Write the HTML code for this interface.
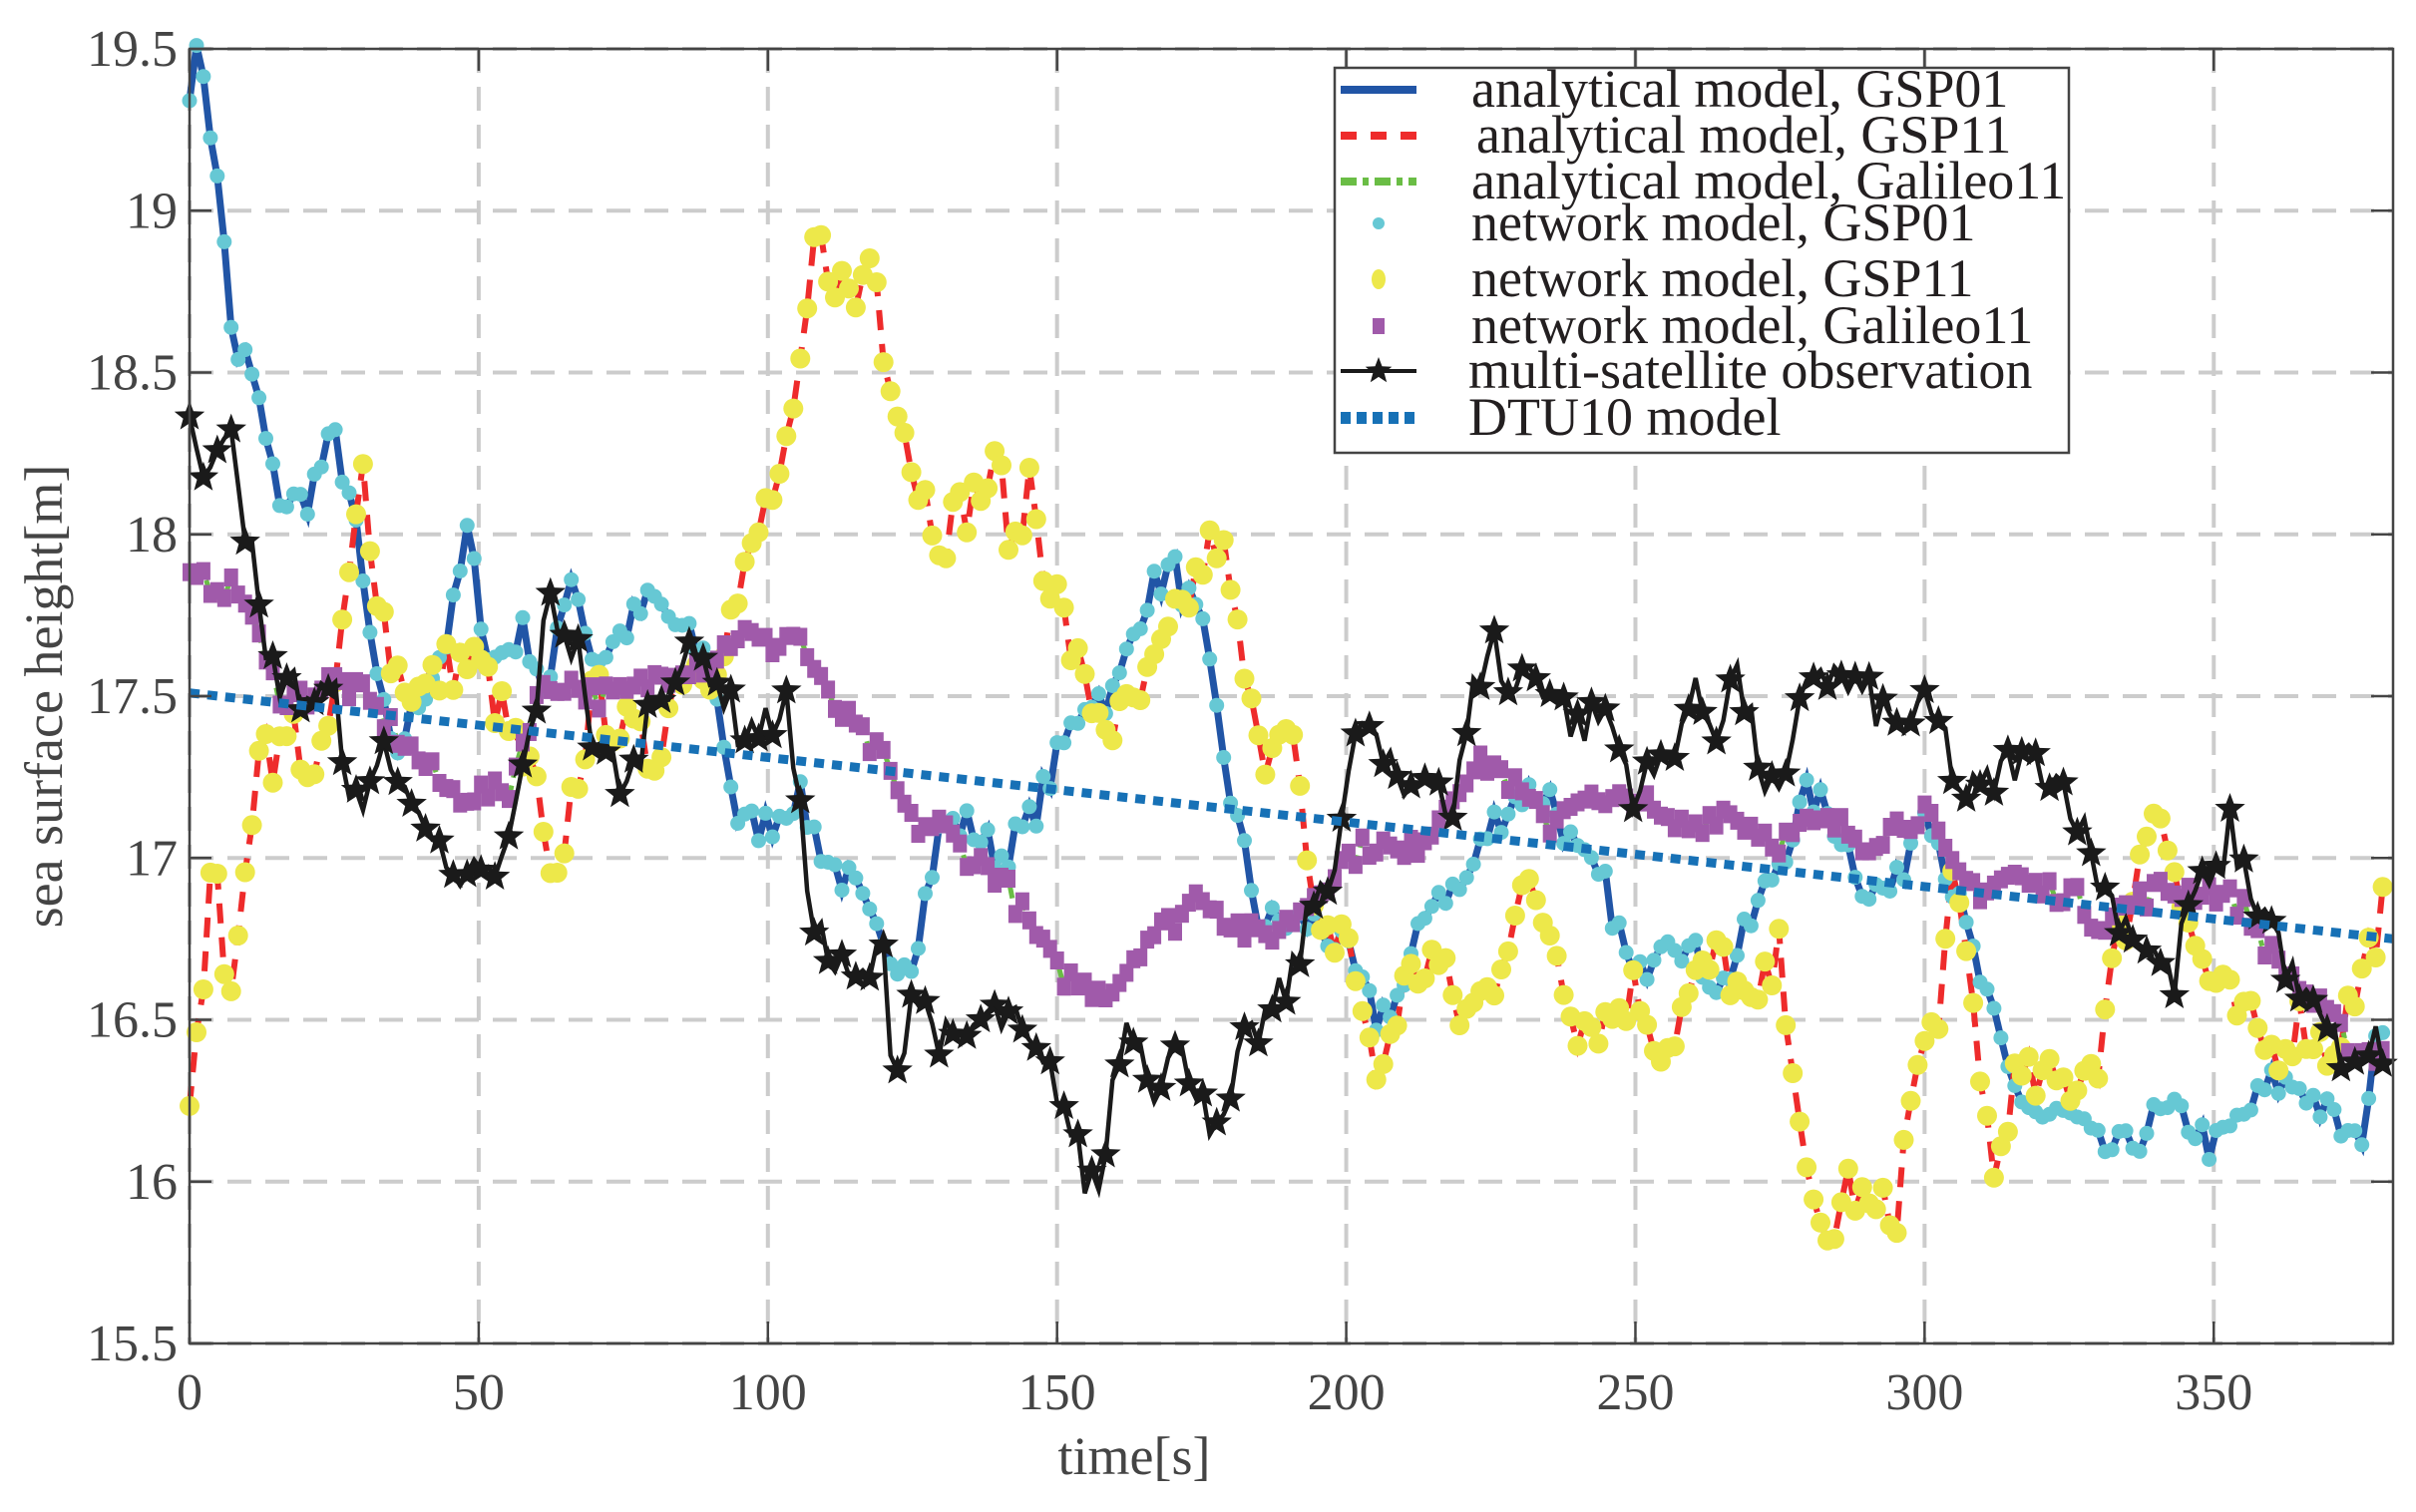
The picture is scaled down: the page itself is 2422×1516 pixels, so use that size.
<!DOCTYPE html>
<html><head><meta charset="utf-8"><style>
html,body{margin:0;padding:0;background:#fff;}
svg{display:block;}
text{font-family:"Liberation Serif",serif;fill:#444;}
</style></head><body>
<svg id="s" width="2422" height="1516" viewBox="0 0 2422 1516" xmlns="http://www.w3.org/2000/svg"></svg>
<script>
const L=190,R=2399,T=49,B=1347,XM=381,Y0=15.5,Y1=19.5;
const X=t=>L+(R-L)*t/XM, Y=v=>B-(B-T)*(v-Y0)/(Y1-Y0);
let h='';
for(let t=0;t<=350;t+=50){h+=`<line x1="${X(t)}" y1="${T}" x2="${X(t)}" y2="${B}" stroke="#cccccc" stroke-width="4" stroke-dasharray="24,14"/>`;}
for(let v=15.5;v<=19.5;v+=0.5){h+=`<line x1="${L}" y1="${Y(v)}" x2="${R}" y2="${Y(v)}" stroke="#cccccc" stroke-width="4" stroke-dasharray="24,14"/>`;}
let seed=7;function rnd(){seed=(seed*16807)%2147483647;return seed/2147483647;}
function parse(s){return s.split(',').map(p=>p.split(':').map(Number));}
function interp(k,t){for(let i=0;i<k.length-1;i++){if(t<=k[i+1][0]){const a=k[i],b=k[i+1];return a[1]+(b[1]-a[1])*(t-a[0])/(b[0]-a[0]);}}return k[k.length-1][1];}
function series(s,amp){const k=parse(s);const out=[];for(let t=0;t<=380;t+=1.2){out.push([t,interp(k,t)+(rnd()-0.5)*2*amp]);}return out;}
const g1=series("0:19.4,2:19.5,4:19.2,6:18.9,8:18.5,10:18.55,12:18.4,14:18.2,16:18.1,20:18.1,25:18.3,28:18.1,31:17.7,35:17.3,40:17.5,45:17.7,48:18.0,52:17.6,58:17.7,62:17.5,66:17.9,70:17.6,75:17.7,80:17.8,85:17.7,90:17.6,95:17.1,100:17.1,105:17.2,110:17.0,115:16.9,120:16.7,125:16.7,130:17.1,135:17.1,140:17.0,145:17.1,150:17.3,155:17.5,160:17.5,165:17.8,170:17.9,175:17.7,180:17.2,185:16.8,190:16.8,195:16.8,200:16.7,205:16.5,210:16.6,215:16.9,220:16.9,225:17.1,230:17.2,235:17.2,240:17.0,245:16.9,250:16.6,255:16.8,260:16.7,265:16.6,270:16.8,275:17.0,280:17.2,285:17.1,290:16.9,295:16.9,300:17.2,305:16.9,310:16.6,315:16.3,320:16.2,325:16.2,330:16.1,335:16.1,340:16.2,345:16.2,350:16.1,355:16.2,360:16.3,365:16.3,370:16.2,375:16.1,380:16.6",0.06);
const g2=series("0:16.3,2:16.6,4:17.0,6:16.7,8:16.6,10:17.0,12:17.4,15:17.3,18:17.4,22:17.2,25:17.5,28:17.9,30:18.2,32:17.9,35:17.6,40:17.5,45:17.6,50:17.6,55:17.4,60:17.2,63:16.8,65:17.1,70:17.5,75:17.4,80:17.3,85:17.6,90:17.6,95:17.8,100:18.1,103:18.2,106:18.5,108:18.9,112:18.8,115:18.7,118:18.9,120:18.6,123:18.4,125:18.2,130:18.0,135:18.1,140:18.2,143:17.9,145:18.2,148:17.9,150:17.8,155:17.5,160:17.4,165:17.5,170:17.7,175:17.9,178:18.0,182:17.6,185:17.3,190:17.5,193:17.0,195:16.7,200:16.8,205:16.3,210:16.6,215:16.7,220:16.5,225:16.6,230:16.9,235:16.8,240:16.5,245:16.5,250:16.6,255:16.4,260:16.6,265:16.7,270:16.5,275:16.7,278:16.3,280:15.9,283:15.8,287:16.0,290:15.9,295:15.9,298:16.3,302:16.5,305:16.9,308:16.6,310:16.3,312:16.0,315:16.3,320:16.3,325:16.3,330:16.4,333:16.7,336:16.9,340:17.2,342:17.1,345:16.8,350:16.6,355:16.5,360:16.4,365:16.5,370:16.4,375:16.6,380:16.9",0.09);
const g3=series("0:17.85,5:17.85,10:17.8,13:17.6,16:17.5,20:17.5,25:17.55,30:17.5,35:17.4,40:17.3,45:17.2,50:17.2,55:17.2,60:17.5,65:17.55,70:17.5,75:17.5,80:17.55,85:17.6,90:17.6,95:17.7,100:17.65,105:17.7,110:17.5,115:17.4,120:17.3,125:17.1,130:17.1,135:17.0,140:16.95,145:16.8,150:16.65,155:16.6,160:16.6,165:16.75,170:16.8,175:16.9,180:16.8,185:16.75,190:16.8,195:16.9,200:17.0,205:17.05,210:17.0,215:17.1,220:17.25,225:17.3,230:17.2,235:17.1,240:17.2,245:17.15,250:17.2,255:17.1,260:17.1,265:17.15,270:17.1,275:17.05,280:17.1,285:17.1,290:17.05,295:17.1,300:17.15,305:16.95,310:16.9,315:16.95,320:16.9,325:16.9,330:16.8,335:16.85,340:16.9,345:16.9,350:16.9,355:16.85,360:16.7,365:16.6,370:16.5,375:16.4,380:16.4",0.04);
const g4=series("0:18.4,3:18.1,5:18.3,7:18.4,9:18.1,11:17.9,13:17.6,16:17.55,20:17.5,25:17.5,28:17.2,30:17.1,33:17.4,36:17.2,40:17.2,43:17.0,47:16.85,50:17.0,53:16.9,57:17.2,60:17.5,62:17.8,65:17.7,68:17.6,70:17.3,73:17.3,76:17.2,80:17.5,85:17.6,90:17.6,95:17.4,100:17.4,103:17.5,107:16.9,110:16.7,115:16.6,120:16.7,122:16.3,125:16.6,128:16.5,132:16.4,137:16.5,142:16.5,147:16.35,150:16.3,155:16.0,158:16.0,160:16.4,163:16.5,167:16.3,170:16.4,175:16.3,178:16.1,182:16.4,186:16.5,190:16.6,195:16.9,198:17.0,200:17.2,203:17.45,206:17.3,210:17.2,215:17.3,218:17.1,222:17.5,225:17.7,228:17.5,232:17.6,236:17.5,240:17.4,245:17.45,250:17.2,255:17.3,260:17.5,264:17.4,267:17.6,270:17.4,273:17.2,276:17.2,280:17.6,285:17.55,290:17.5,295:17.4,300:17.45,303:17.4,306:17.2,310:17.2,315:17.3,320:17.3,325:17.2,328:17.05,331:16.9,335:16.8,340:16.7,343:16.6,346:16.9,350:16.9,353:17.1,356:16.9,360:16.8,364:16.6,368:16.5,372:16.4,375:16.3,378:16.5,380:16.2",0.07);
const pts=d=>d.map(p=>X(p[0]).toFixed(1)+','+Y(p[1]).toFixed(1)).join(' ');
h+=`<polyline points="${pts(g1)}" fill="none" stroke="#2155a6" stroke-width="7"/>`;
h+=`<polyline points="${pts(g2)}" fill="none" stroke="#ee2b2b" stroke-width="6" stroke-dasharray="20,14"/>`;
h+=`<polyline points="${pts(g3)}" fill="none" stroke="#6abd45" stroke-width="5" stroke-dasharray="18,8,6,8"/>`;
g1.forEach(p=>h+=`<circle cx="${X(p[0]).toFixed(1)}" cy="${Y(p[1]).toFixed(1)}" r="7.5" fill="#66c8d4"/>`);
g2.forEach(p=>h+=`<circle cx="${X(p[0]).toFixed(1)}" cy="${Y(p[1]).toFixed(1)}" r="10" fill="#ede84a"/>`);
g3.forEach(p=>h+=`<rect x="${(X(p[0])-7).toFixed(1)}" y="${(Y(p[1])-9).toFixed(1)}" width="14" height="18" fill="#a05aaa"/>`);
h+=`<polyline points="${pts(g4)}" fill="none" stroke="#1a1a1a" stroke-width="4.5"/>`;
function star(cx,cy,r){let s='';for(let i=0;i<10;i++){const a=-Math.PI/2+i*Math.PI/5,rr=i%2?r*0.42:r;s+=(cx+rr*Math.cos(a)).toFixed(1)+','+(cy+rr*Math.sin(a)).toFixed(1)+' ';}return `<polygon points="${s}" fill="#1a1a1a"/>`;}
g4.forEach((p,i)=>{if(i%2==0)h+=star(X(p[0]),Y(p[1]),16);});
h+=`<line x1="${X(0)}" y1="${Y(17.51)}" x2="${X(381)}" y2="${Y(16.75)}" stroke="#1771b6" stroke-width="9" stroke-dasharray="10,8"/>`;
h+=`<rect x="${L}" y="${T}" width="${R-L}" height="${B-T}" fill="none" stroke="#444" stroke-width="2.5"/>`;
for(let t=0;t<=350;t+=50){const x=X(t);h+=`<line x1="${x}" y1="${B}" x2="${x}" y2="${B-22}" stroke="#444" stroke-width="2.5"/><line x1="${x}" y1="${T}" x2="${x}" y2="${T+22}" stroke="#444" stroke-width="2.5"/><text x="${x}" y="${B+66}" font-size="52" text-anchor="middle">${t}</text>`;}
for(let v=15.5;v<=19.51;v+=0.5){const y=Y(v);h+=`<line x1="${L}" y1="${y}" x2="${L+22}" y2="${y}" stroke="#444" stroke-width="2.5"/><line x1="${R}" y1="${y}" x2="${R-22}" y2="${y}" stroke="#444" stroke-width="2.5"/><text x="${L-12}" y="${y+17}" font-size="52" text-anchor="end">${Number.isInteger(v)?v:v.toFixed(1)}</text>`;}
h+=`<text x="1137" y="1478" font-size="54" text-anchor="middle">time[s]</text>`;
h+=`<text transform="translate(62,698) rotate(-90)" font-size="54" text-anchor="middle">sea surface height[m]</text>`;
const lx=1338,ly=68;
h+=`<rect x="${lx}" y="${ly}" width="736" height="386" fill="#fff" stroke="#444" stroke-width="2.5"/>`;
const labels=["analytical model, GSP01","analytical model, GSP11","analytical model, Galileo11","network model, GSP01","network model, GSP11","network model, Galileo11","multi-satellite observation","DTU10 model"];
const ys=[90,136,182,224,280,327,372,419];
labels.forEach((s,i)=>{h+=`<text x="${lx+(i==1?142:i==6||i==7?134:137)}" y="${ys[i]+17}" font-size="54" style="fill:#231f20">${s}</text>`;});
const sy=i=>ys[i];
h+=`<line x1="${lx+6}" y1="${sy(0)}" x2="${lx+82}" y2="${sy(0)}" stroke="#2155a6" stroke-width="8"/>`;
h+=`<line x1="${lx+6}" y1="${sy(1)}" x2="${lx+82}" y2="${sy(1)}" stroke="#ee2b2b" stroke-width="8" stroke-dasharray="16,14"/>`;
h+=`<line x1="${lx+6}" y1="${sy(2)}" x2="${lx+82}" y2="${sy(2)}" stroke="#6abd45" stroke-width="8" stroke-dasharray="16,6,6,6"/>`;
h+=`<circle cx="${lx+44}" cy="${sy(3)}" r="6" fill="#66c8d4"/>`;
h+=`<ellipse cx="${lx+44}" cy="${sy(4)}" rx="7" ry="10" fill="#ede84a"/>`;
h+=`<rect x="${lx+38}" y="${sy(5)-8}" width="12" height="16" fill="#a05aaa"/>`;
h+=`<line x1="${lx+6}" y1="${sy(6)}" x2="${lx+82}" y2="${sy(6)}" stroke="#1a1a1a" stroke-width="4"/>`+star(lx+44,sy(6),14);
h+=`<line x1="${lx+6}" y1="${sy(7)}" x2="${lx+82}" y2="${sy(7)}" stroke="#1771b6" stroke-width="12" stroke-dasharray="10,6"/>`;
document.getElementById('s').innerHTML=h;
</script>
</body></html>
